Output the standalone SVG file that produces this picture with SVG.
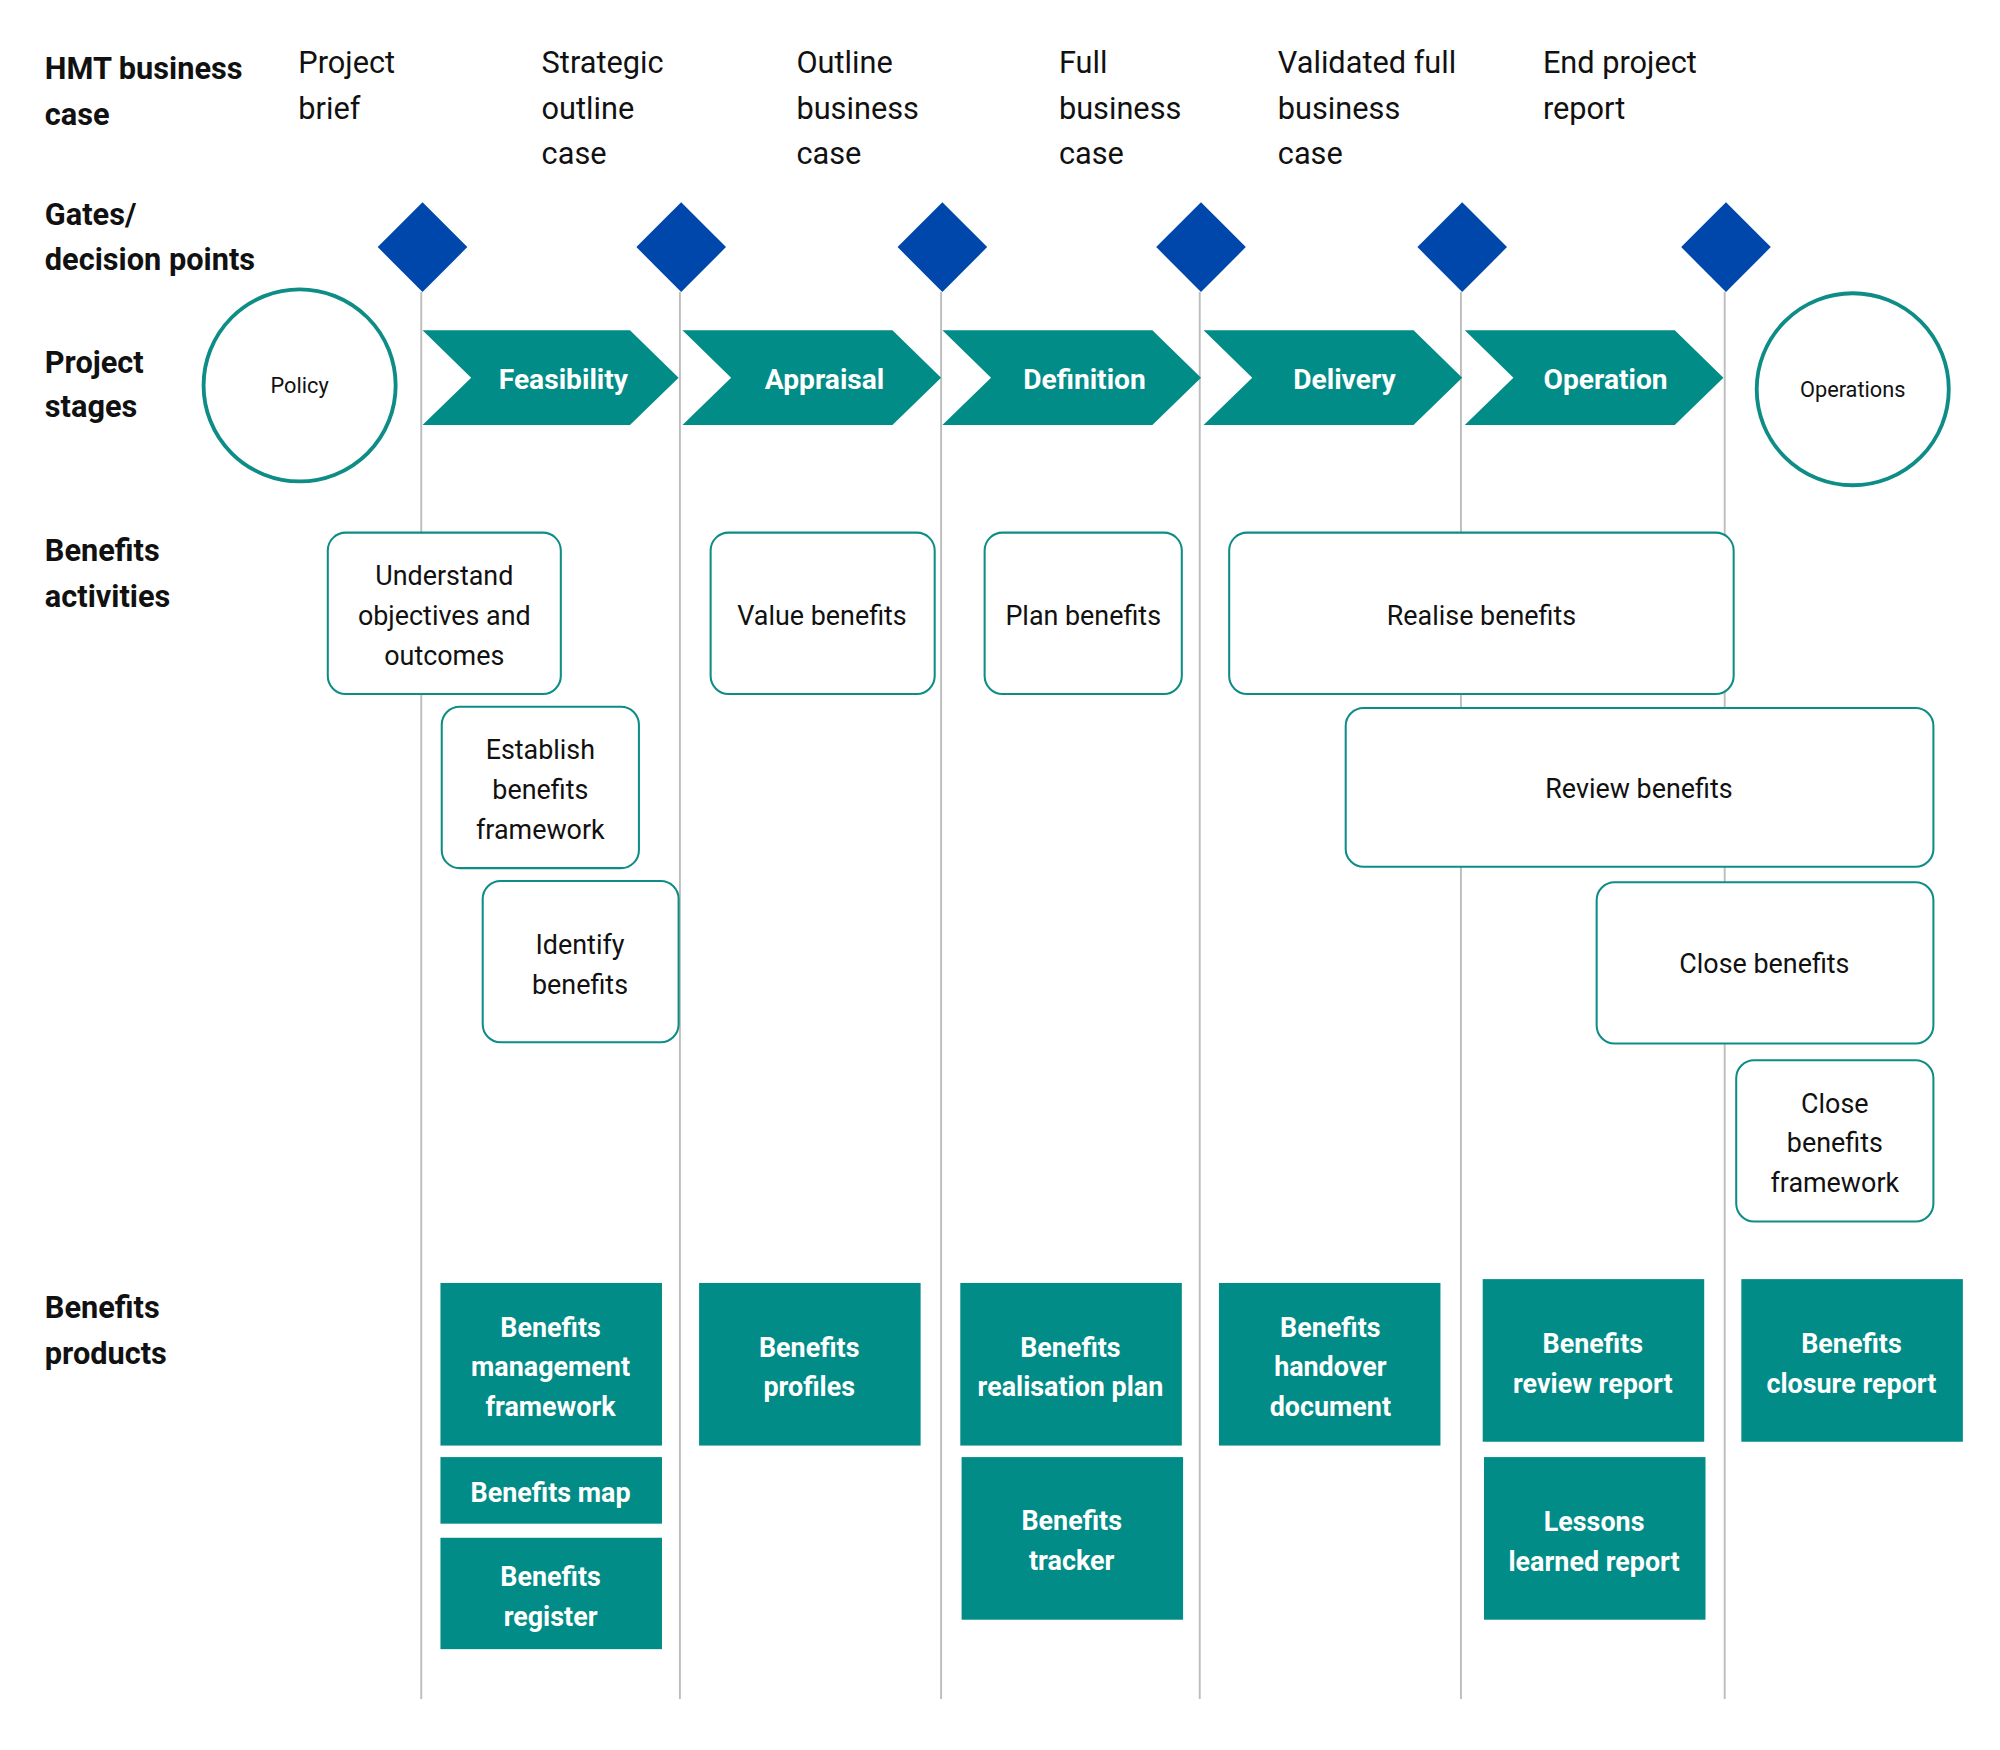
<svg xmlns="http://www.w3.org/2000/svg" width="2000" height="1750" viewBox="0 0 2000 1750">
<style>
text{font-family:Roboto,"Liberation Sans",sans-serif;fill:#111}
.h{font-weight:bold;font-size:24px}
.c{font-size:24px}
.a{fill:#fff;stroke:#0E8C86;stroke-width:1.6}
.at{font-size:21px;text-anchor:middle}
.p{fill:#028C87}
.pt{font-size:21px;font-weight:bold;fill:#fff;text-anchor:middle}
.ch{fill:#028C87}
.cht{font-size:22px;font-weight:bold;fill:#fff;text-anchor:middle}
.d{fill:#0047AB}
.vl{stroke:#BDBDBD;stroke-width:1.5}
</style>
<rect width="2000" height="1750" fill="#fff"/>
<g transform="scale(1.2804)">
<g id="connectors">
<line class="vl" x1="329" y1="228" x2="329" y2="1327"/>
<line class="vl" x1="531" y1="228" x2="531" y2="1327"/>
<line class="vl" x1="735" y1="228" x2="735" y2="1327"/>
<line class="vl" x1="937" y1="228" x2="937" y2="1327"/>
<line class="vl" x1="1141" y1="228" x2="1141" y2="1327"/>
<line class="vl" x1="1347" y1="228" x2="1347" y2="1327"/>
</g>
<g id="labels">
<text class="h" x="35" y="62">HMT business</text><text class="h" x="35" y="98">case</text>
<text class="h" x="35" y="176">Gates/</text><text class="h" x="35" y="211">decision points</text>
<text class="h" x="35" y="291">Project</text><text class="h" x="35" y="326">stages</text>
<text class="h" x="35" y="438">Benefits</text><text class="h" x="35" y="474">activities</text>
<text class="h" x="35" y="1029">Benefits</text><text class="h" x="35" y="1065">products</text>
<text class="c" x="233" y="57">Project</text><text class="c" x="233" y="93">brief</text>
<text class="c" x="423" y="57">Strategic</text><text class="c" x="423" y="93">outline</text><text class="c" x="423" y="128">case</text>
<text class="c" x="622" y="57">Outline</text><text class="c" x="622" y="93">business</text><text class="c" x="622" y="128">case</text>
<text class="c" x="827" y="57">Full</text><text class="c" x="827" y="93">business</text><text class="c" x="827" y="128">case</text>
<text class="c" x="998" y="57">Validated full</text><text class="c" x="998" y="93">business</text><text class="c" x="998" y="128">case</text>
<text class="c" x="1205" y="57">End project</text><text class="c" x="1205" y="93">report</text>
</g>
<g id="gates">
<polygon class="d" points="330,158 365,193 330,228 295,193"/>
<polygon class="d" points="532,158 567,193 532,228 497,193"/>
<polygon class="d" points="736,158 771,193 736,228 701,193"/>
<polygon class="d" points="938,158 973,193 938,228 903,193"/>
<polygon class="d" points="1142,158 1177,193 1142,228 1107,193"/>
<polygon class="d" points="1348,158 1383,193 1348,228 1313,193"/>
</g>
<g id="policy"><circle cx="234" cy="301" r="75" fill="#fff" stroke="#0E8C86" stroke-width="3"/><text x="234" y="307" font-size="17" text-anchor="middle">Policy</text></g>
<g id="operations"><circle cx="1447" cy="304" r="75" fill="#fff" stroke="#0E8C86" stroke-width="3"/><text x="1447" y="310" font-size="17" text-anchor="middle">Operations</text></g>
<g id="feasibility"><polygon class="ch" points="330,258 492,258 530,295 492,332 330,332 368,295"/><text class="cht" x="440" y="304">Feasibility</text></g>
<g id="appraisal"><polygon class="ch" points="533,258 697,258 735,295 697,332 533,332 571,295"/><text class="cht" x="644" y="304">Appraisal</text></g>
<g id="definition"><polygon class="ch" points="736,258 900,258 938,295 900,332 736,332 774,295"/><text class="cht" x="847" y="304">Definition</text></g>
<g id="delivery"><polygon class="ch" points="940,258 1104,258 1142,295 1104,332 940,332 978,295"/><text class="cht" x="1050" y="304">Delivery</text></g>
<g id="operation"><polygon class="ch" points="1144,258 1308,258 1346,295 1308,332 1144,332 1182,295"/><text class="cht" x="1254" y="304">Operation</text></g>
<g id="understand"><rect class="a" x="256" y="416" width="182" height="126" rx="14"/><text class="at" x="347" y="457">Understand</text><text class="at" x="347" y="488">objectives and</text><text class="at" x="347" y="519">outcomes</text></g>
<g id="value"><rect class="a" x="555" y="416" width="175" height="126" rx="14"/><text class="at" x="642" y="488">Value benefits</text></g>
<g id="plan"><rect class="a" x="769" y="416" width="154" height="126" rx="14"/><text class="at" x="846" y="488">Plan benefits</text></g>
<g id="realise"><rect class="a" x="960" y="416" width="394" height="126" rx="14"/><text class="at" x="1157" y="488">Realise benefits</text></g>
<g id="establish"><rect class="a" x="345" y="552" width="154" height="126" rx="14"/><text class="at" x="422" y="593">Establish</text><text class="at" x="422" y="624">benefits</text><text class="at" x="422" y="655">framework</text></g>
<g id="review"><rect class="a" x="1051" y="553" width="459" height="124" rx="14"/><text class="at" x="1280" y="623">Review benefits</text></g>
<g id="identify"><rect class="a" x="377" y="688" width="153" height="126" rx="14"/><text class="at" x="453" y="745">Identify</text><text class="at" x="453" y="776">benefits</text></g>
<g id="close"><rect class="a" x="1247" y="689" width="263" height="126" rx="14"/><text class="at" x="1378" y="760">Close benefits</text></g>
<g id="closefw"><rect class="a" x="1356" y="828" width="154" height="126" rx="14"/><text class="at" x="1433" y="869">Close</text><text class="at" x="1433" y="900">benefits</text><text class="at" x="1433" y="931">framework</text></g>
<g id="bmf"><rect class="p" x="344" y="1002" width="173" height="127"/><text class="pt" x="430" y="1044">Benefits</text><text class="pt" x="430" y="1075">management</text><text class="pt" x="430" y="1106">framework</text></g>
<g id="bmap"><rect class="p" x="344" y="1138" width="173" height="52"/><text class="pt" x="430" y="1173">Benefits map</text></g>
<g id="breg"><rect class="p" x="344" y="1201" width="173" height="87"/><text class="pt" x="430" y="1239">Benefits</text><text class="pt" x="430" y="1270">register</text></g>
<g id="bprof"><rect class="p" x="546" y="1002" width="173" height="127"/><text class="pt" x="632" y="1060">Benefits</text><text class="pt" x="632" y="1090">profiles</text></g>
<g id="brp"><rect class="p" x="750" y="1002" width="173" height="127"/><text class="pt" x="836" y="1060">Benefits</text><text class="pt" x="836" y="1090">realisation plan</text></g>
<g id="btrack"><rect class="p" x="751" y="1138" width="173" height="127"/><text class="pt" x="837" y="1195">Benefits</text><text class="pt" x="837" y="1226">tracker</text></g>
<g id="bhand"><rect class="p" x="952" y="1002" width="173" height="127"/><text class="pt" x="1039" y="1044">Benefits</text><text class="pt" x="1039" y="1075">handover</text><text class="pt" x="1039" y="1106">document</text></g>
<g id="brev"><rect class="p" x="1158" y="999" width="173" height="127"/><text class="pt" x="1244" y="1057">Benefits</text><text class="pt" x="1244" y="1088">review report</text></g>
<g id="lessons"><rect class="p" x="1159" y="1138" width="173" height="127"/><text class="pt" x="1245" y="1196">Lessons</text><text class="pt" x="1245" y="1227">learned report</text></g>
<g id="bclose"><rect class="p" x="1360" y="999" width="173" height="127"/><text class="pt" x="1446" y="1057">Benefits</text><text class="pt" x="1446" y="1088">closure report</text></g>
</g>
</svg>
